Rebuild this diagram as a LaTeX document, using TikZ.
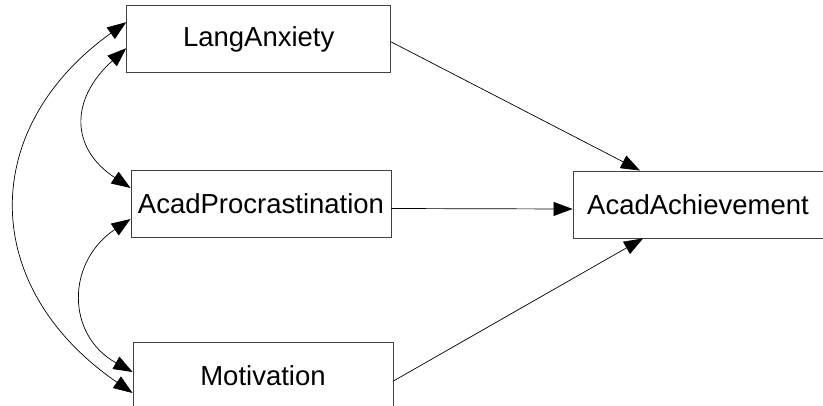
\documentclass[tikz,border=0pt]{standalone}
\usepackage{fontspec}
\setmainfont{Liberation Sans}
\usetikzlibrary{arrows.meta}
\begin{document}
\begin{tikzpicture}[x=1pt,y=-1pt,
  box/.style={draw=black!75,line width=0.9pt,minimum height=67pt,inner sep=0pt,
    font=\fontsize{27.5}{32}\selectfont},
  arr/.style={line width=0.7pt,-{Triangle[length=19pt,width=14pt]}},
  darr/.style={line width=0.7pt,{Triangle[length=19pt,width=14pt]}-{Triangle[length=19pt,width=14pt]}}]
\useasboundingbox (0,0) rectangle (823,405);
\clip (0,0) rectangle (823,405);
\fill[white] (0,0) rectangle (823,405);
\node[box,minimum width=264pt] (la) at (258.7,39.2) {LangAnxiety};
\node[box,minimum width=260pt] (ap) at (261,204) {AcadProcrastination};
\node[box,minimum width=260pt] (mo) at (263,376) {Motivation};
\node[box,minimum width=250pt] (aa) at (698,204.5) {AcadAchievement};
\draw[arr] ([yshift=-2.7pt]la.east) -- ([xshift=-58pt]aa.north);
\draw[arr] ([yshift=-4.5pt]ap.east) -- ([yshift=-4.5pt]aa.west);
\draw[arr] ([yshift=-5pt]mo.east) -- ([xshift=-55pt]aa.south);
\draw[darr] ([yshift=17pt]la.west) .. controls +(-148,106) and +(-154,-106) .. ([yshift=-17pt]mo.west);
\draw[darr] ([yshift=-9pt]la.west) .. controls +(-56.3,51) and +(-60.6,-40) .. ([yshift=16pt]ap.west);
\draw[darr] ([yshift=-15pt]ap.west) .. controls +(-64.4,43) and +(-66.7,-37) .. ([yshift=4pt]mo.west);
\end{tikzpicture}
\end{document}
